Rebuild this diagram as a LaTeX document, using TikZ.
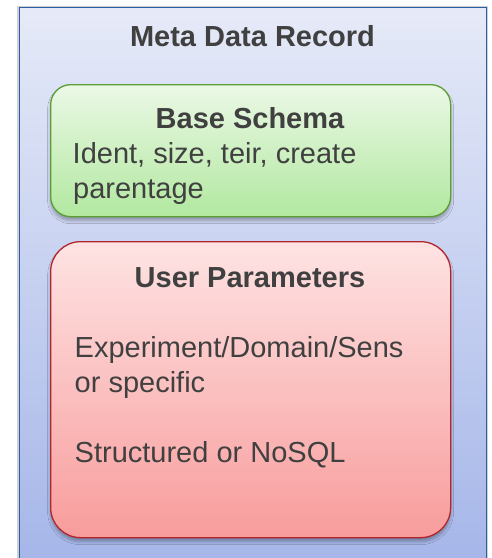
\documentclass[tikz,border=0pt]{standalone}
\usepackage{fontspec}
\setmainfont{Liberation Sans}
\usetikzlibrary{shadows.blur}
\definecolor{txt}{HTML}{404040}
\definecolor{outtop}{HTML}{E6EAF8}
\definecolor{outbot}{HTML}{A4B5E8}
\definecolor{outline}{HTML}{2A5CA8}
\definecolor{gtop}{HTML}{EBF8E6}
\definecolor{gbot}{HTML}{B2E8A0}
\definecolor{gline}{HTML}{5B9E32}
\definecolor{rtop}{HTML}{FEE3E3}
\definecolor{rbot}{HTML}{F89C9C}
\definecolor{rline}{HTML}{B0262C}
\tikzset{
  lbl/.style={inner sep=0pt, text=txt, font=\fontsize{29}{35}\selectfont},
  hdr/.style={lbl, font=\fontsize{29}{35}\selectfont\bfseries, anchor=base},
  bodytxt/.style={lbl, anchor=base west},
  boxshadow/.style={blur shadow={shadow xshift=0pt, shadow yshift=-4pt, shadow blur radius=3pt, shadow blur steps=6, shadow opacity=30}},
  greenbox/.style={draw=gline, line width=1.3pt, rounded corners=20pt, top color=gtop, bottom color=gbot, boxshadow},
  redbox/.style={draw=rline, line width=1.3pt, rounded corners=30pt, top color=rtop, bottom color=rbot, boxshadow},
}
\begin{document}
\begin{tikzpicture}[x=1pt,y=-1pt]
\useasboundingbox (0,0) rectangle (491,558);
\clip (0,0) rectangle (491,558);
\fill[white] (0,0) rectangle (491,558);
% outer record
\fill[black!18] (17,6) rectangle (488,570);
\node[draw=outline, line width=1.3pt, top color=outtop, bottom color=outbot,
      minimum width=467pt, minimum height=563pt, inner sep=0pt, anchor=north west] (outer) at (19,7) {};
\node[hdr] (title) at (252.5,46) {Meta Data Record};
% base schema
\node[greenbox, minimum width=400pt, minimum height=132pt, inner sep=0pt, anchor=north west] (base) at (50,84) {};
\node[hdr] (basehdr) at (250,128) {Base Schema};
\node[bodytxt] (base1) at (72.5,163) {Ident, size, teir, create};
\node[bodytxt] (base2) at (73,198) {parentage};
% user parameters
\node[redbox, minimum width=400pt, minimum height=296pt, inner sep=0pt, anchor=north west] (user) at (50,241) {};
\node[hdr] (userhdr) at (250,287) {User Parameters};
\node[bodytxt] (user1) at (74.5,357) {Experiment/Domain/Sens};
\node[bodytxt] (user2) at (74.5,392) {or specific};
\node[bodytxt] (user3) at (74.5,462) {Structured or NoSQL};
\end{tikzpicture}
\end{document}
